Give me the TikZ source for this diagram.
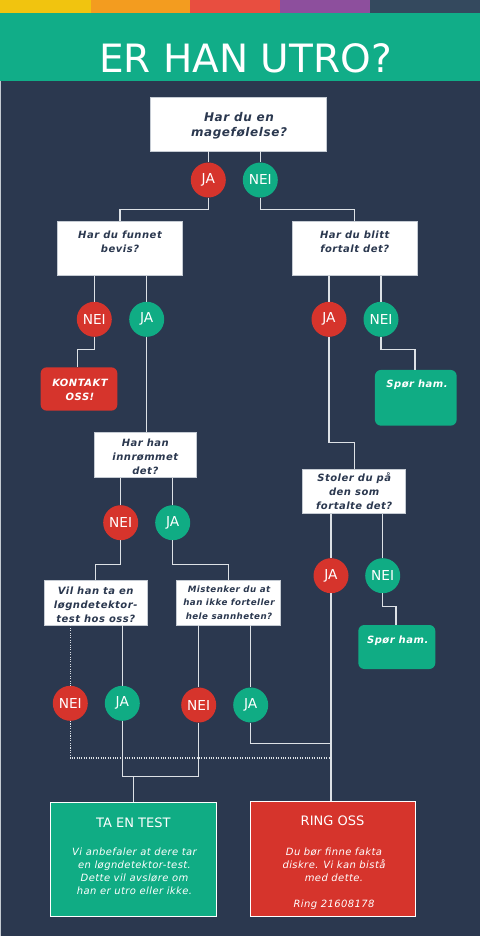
\documentclass[tikz,border=0pt]{standalone}
\usepackage{fontspec}
\setmainfont{DejaVu Sans}
\newfontfamily\qfont[LetterSpace=5]{DejaVu Sans}
\newfontfamily\dfont[LetterSpace=4]{DejaVu Sans}
\definecolor{bgc}{HTML}{2B384F}
\definecolor{cyel}{HTML}{F1C40F}
\definecolor{cora}{HTML}{F39C1F}
\definecolor{cbred}{HTML}{E84E40}
\definecolor{cpur}{HTML}{8D4F9D}
\definecolor{cdark}{HTML}{34495E}
\definecolor{tgreen}{HTML}{11AD88}
\definecolor{cred}{HTML}{D6342C}
\definecolor{cgreen}{HTML}{10AC84}
\definecolor{linec}{HTML}{DDE1E6}
\definecolor{boxline}{HTML}{C5CBD3}
\definecolor{navy}{HTML}{2B384F}
\begin{document}
\begin{tikzpicture}[x=1pt,y=-1pt,
  qbox/.style={draw=boxline, line width=0.8pt, fill=white, inner sep=0pt},
  qtext/.style={font=\qfont\bfseries\itshape\fontsize{10}{14}\selectfont, text=navy, align=center, inner sep=0pt},
  wtext/.style={font=\qfont\bfseries\itshape\fontsize{10}{14}\selectfont, text=white, align=center, inner sep=0pt},
  ans/.style={circle, minimum size=35pt, inner sep=0pt, text=white, font=\fontsize{13.7}{16}\selectfont},
  ansR/.style={ans, fill=cred},
  ansG/.style={ans, fill=cgreen},
  conn/.style={draw=linec, line width=1.2pt},
  dotconn/.style={draw=linec, line width=1.1pt, dash pattern=on 1.1pt off 1.3pt},
  rbox/.style={rounded corners=6pt, inner sep=0pt},
  endbox/.style={draw=white, line width=1pt, inner sep=0pt},
  desc/.style={font=\dfont\itshape\fontsize{10}{13}\selectfont, text=white, align=center, inner sep=0pt},
  etitle/.style={font=\fontsize{13}{15}\selectfont, text=white, inner sep=0pt}
]
\useasboundingbox (0,0) rectangle (480,936);
% background and header
\fill[bgc] (0,0) rectangle (480,936);
\fill[cyel] (0,0) rectangle (91,13.3);
\fill[cora] (91,0) rectangle (190,13.3);
\fill[cbred] (190,0) rectangle (279.7,13.3);
\fill[cpur] (279.7,0) rectangle (370,13.3);
\fill[cdark] (370,0) rectangle (480,13.3);
\fill[tgreen] (0,13.3) rectangle (480,81);
\draw[boxline, line width=1pt] (0.5,81) -- (0.5,936);
\node[text=white, font=\fontsize{39}{44}\selectfont, inner sep=0pt] (title) at (245.5,58.8) {ER HAN UTRO?};

% question boxes
\node[qbox, minimum width=176pt, minimum height=54pt] (q1) at (238,124) {};
\node[qtext, font=\qfont\bfseries\itshape\fontsize{12}{15}\selectfont] (q1t) at (239,126) {Har du en\\magefølelse?};
\node[qbox, minimum width=125pt, minimum height=54pt] (q2) at (120,248.7) {};
\node[qtext] (q2t) at (120,241.7) {Har du funnet\\bevis?};
\node[qbox, minimum width=124.7pt, minimum height=54pt] (q3) at (354.7,248.7) {};
\node[qtext] (q3t) at (354.7,241.7) {Har du blitt\\fortalt det?};
\node[qbox, minimum width=102.7pt, minimum height=44.7pt] (q4) at (145.3,455) {};
\node[qtext] (q4t) at (145.3,457) {Har han\\innrømmet\\det?};
\node[qbox, minimum width=103pt, minimum height=44.3pt] (q5) at (354.2,491.2) {};
\node[qtext] (q5t) at (354.2,491) {Stoler du på\\den som\\fortalte det?};
\node[qbox, minimum width=102.7pt, minimum height=44.3pt] (q6) at (95.7,602.8) {};
\node[qtext] (q6t) at (95.7,604.6) {Vil han ta en\\løgndetektor-\\test hos oss?};
\node[qbox, minimum width=103.3pt, minimum height=44.3pt] (q7) at (228.3,602.8) {};
\node[qtext, font=\qfont\bfseries\itshape\fontsize{8.7}{13.3}\selectfont] (q7t) at (229,602.5) {Mistenker du at\\han ikke forteller\\hele sannheten?};

% terminal small boxes
\node[rbox, fill=cred, minimum width=76.7pt, minimum height=43.3pt] (kontakt) at (79,389) {};
\node[wtext] (kontaktt) at (80,389.8) {KONTAKT\\OSS!};
\node[rbox, fill=cgreen, minimum width=81.7pt, minimum height=55.7pt] (spor1) at (415.8,397.8) {};
\node[wtext] (spor1t) at (417,385) {Spør ham.};
\node[rbox, fill=cgreen, minimum width=77pt, minimum height=44pt] (spor2) at (396.8,647) {};
\node[wtext] (spor2t) at (397.7,640.7) {Spør ham.};

% end boxes
\node[endbox, fill=cgreen, minimum width=166.3pt, minimum height=114pt] (test) at (133.5,859.3) {};
\node[etitle] (testt) at (133.3,822.3) {TA EN TEST};
\node[desc] (testd) at (134.5,871.2) {Vi anbefaler at dere tar\\en løgndetektor-test.\\Dette vil avsløre om\\han er utro eller ikke.};
\node[endbox, fill=cred, minimum width=165.3pt, minimum height=115pt] (ring) at (333,858.8) {};
\node[etitle] (ringt) at (332.5,820.5) {RING OSS};
\node[desc] (ringd) at (334,879) {Du bør finne fakta\\diskre. Vi kan bistå\\med dette.\\[13pt]Ring 21608178};

% answer circles
\node[ansR] (a1) at (208.3,180) {JA};
\node[ansG] (a2) at (260.3,180) {NEI};
\node[ansR] (b1) at (94.3,319.3) {NEI};
\node[ansG] (b2) at (146.7,319.3) {JA};
\node[ansR] (b3) at (329,319.3) {JA};
\node[ansG] (b4) at (381,319.3) {NEI};
\node[ansR] (c1) at (120.7,522.7) {NEI};
\node[ansG] (c2) at (172.7,522.7) {JA};
\node[ansR] (c3) at (331,575.7) {JA};
\node[ansG] (c4) at (382.7,575.7) {NEI};
\node[ansR] (d1) at (70.3,703.3) {NEI};
\node[ansG] (d2) at (122.3,703.3) {JA};
\node[ansR] (d3) at (198.7,705) {NEI};
\node[ansG] (d4) at (250.7,705) {JA};

% connectors
\draw[conn] (q1.south -| a1) -- (a1);
\draw[conn] (q1.south -| a2) -- (a2);
\draw[conn] (a1.south) -- ++(0,11.8) -| (q2.north);
\draw[conn] (a2.south) -- ++(0,11.8) -| (q3.north);
\draw[conn] (q2.south -| b1) -- (b1);
\draw[conn] (q2.south -| b2) -- (b2);
\draw[conn] (q3.south -| b3) -- (b3);
\draw[conn] (q3.south -| b4) -- (b4);
\draw[conn] (b1.south) -- ++(0,12.5) -| (kontakt.north -| 77.7,0);
\draw[conn] (b4.south) -- ++(0,12.5) -| (spor1.north -| 415,0);
\draw[conn] (b2.south) -- (q4.north -| b2);
\draw[conn] (b3.south) -- ++(0,105.5) -| (q5.north);
\draw[conn] (q4.south -| c1) -- (c1);
\draw[conn] (q4.south -| c2) -- (c2);
\draw[conn] (c1.south) -- ++(0,24.1) -| (q6.north);
\draw[conn] (c2.south) -- ++(0,24.1) -| (q7.north);
\draw[conn] (q5.south -| c3) -- (c3);
\draw[conn] (q5.south -| c4) -- (c4);
\draw[conn] (c4.south) -- ++(0,12.8) -| (spor2.north -| 396,0);
\draw[dotconn] (q6.south -| d1) -- (d1);
\draw[conn] (q6.south -| d2) -- (d2);
\draw[conn] (q7.south -| d3) -- (d3);
\draw[conn] (q7.south -| d4) -- (d4);
\draw[conn] (c3.south) -- (c3.south |- ring.north);
\draw[conn] (d2.south) -- ++(0,55.2) -| (d3.south);
\draw[conn] (test.north) -- ++(0,-26.3);
\draw[conn] (d4.south) -- ++(0,20.8) coordinate (k1) -- (k1 -| c3);
\draw[dotconn] (d1.south) -- ++(0,37) coordinate (k2) -- (k2 -| c3);
\end{tikzpicture}
\end{document}
